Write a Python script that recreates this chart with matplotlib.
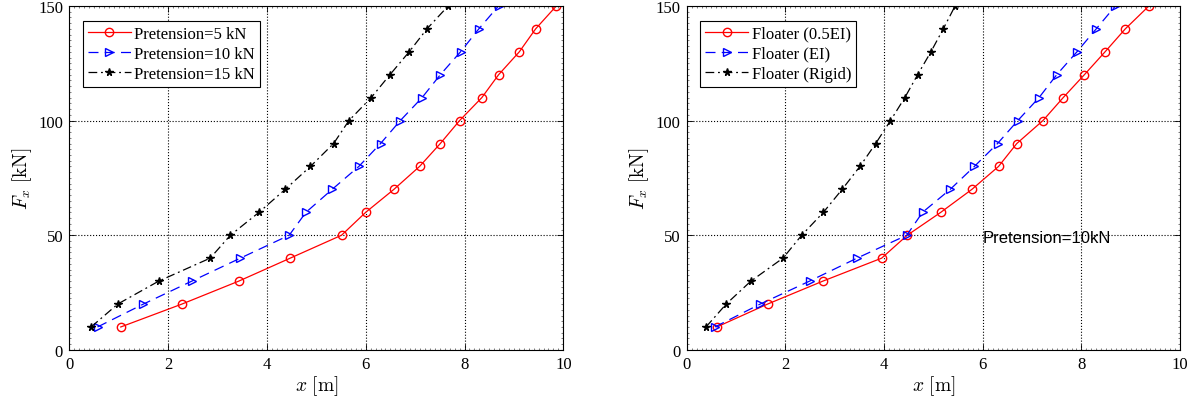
import matplotlib
matplotlib.use('Agg')
import matplotlib.pyplot as plt
from matplotlib.ticker import MultipleLocator

plt.rcParams['font.family'] = ['Liberation Serif', 'DejaVu Serif']
plt.rcParams['mathtext.fontset'] = 'cm'

force = [10, 20, 30, 40, 50, 60, 70, 80, 90, 100, 110, 120, 130, 140, 150]

# offset x [m] for different pretension levels
x_pre5 = [1.04, 2.28, 3.43, 4.47, 5.51, 6.00, 6.57, 7.09, 7.51, 7.90, 8.35, 8.69, 9.11, 9.44, 9.86]
x_pre10 = [0.57, 1.50, 2.48, 3.46, 4.45, 4.79, 5.32, 5.86, 6.30, 6.70, 7.14, 7.51, 7.92, 8.29, 8.69]
x_pre15 = [0.44, 0.98, 1.81, 2.85, 3.26, 3.84, 4.37, 4.88, 5.35, 5.66, 6.11, 6.49, 6.88, 7.24, 7.67]

# offset x [m] for different floater stiffness, pretension 10 kN
x_half_ei = [0.61, 1.64, 2.76, 3.95, 4.47, 5.15, 5.78, 6.32, 6.69, 7.22, 7.63, 8.06, 8.48, 8.89, 9.37]
x_ei = [0.57, 1.49, 2.49, 3.45, 4.46, 4.78, 5.34, 5.83, 6.30, 6.71, 7.14, 7.50, 7.91, 8.30, 8.69]
x_rigid = [0.39, 0.80, 1.30, 1.95, 2.33, 2.77, 3.15, 3.51, 3.83, 4.13, 4.42, 4.68, 4.95, 5.20, 5.44]

labels_left = ['Pretension=5 kN', 'Pretension=10 kN', 'Pretension=15 kN']
labels_right = ['Floater (0.5EI)', 'Floater (EI)', 'Floater (Rigid)']

styles = [
    dict(color='r', linestyle='-', marker='o', mfc='none', ms=6),
    dict(color='b', linestyle=(0, (8, 5)), marker='>', mfc='none', ms=6),
    dict(color='k', linestyle=(0, (7, 3, 1.5, 3)), marker='*', ms=5.5),
]


def setup_axes(ax):
    ax.set_xlim(0, 10)
    ax.set_ylim(0, 150)
    ax.xaxis.set_major_locator(MultipleLocator(2))
    ax.yaxis.set_major_locator(MultipleLocator(50))
    ax.xaxis.set_minor_locator(MultipleLocator(0.1))
    ax.yaxis.set_minor_locator(MultipleLocator(2.5))
    ax.tick_params(which='both', direction='in', top=True, right=True, labelsize=12)
    ax.tick_params(which='major', length=4, width=0.6, pad=4.5)
    ax.tick_params(which='minor', length=1.5, width=0.5, color='0.3')
    ax.grid(True, which='major', linestyle=':', color='k', linewidth=0.8)
    for sp in ax.spines.values():
        sp.set_linewidth(0.8)
    ax.set_xlabel(r'$x\ [\mathrm{m}]$', fontsize=14, labelpad=1)
    ax.set_ylabel(r'$F_x\ [\mathrm{kN}]$', fontsize=14, labelpad=3)


fig = plt.figure(figsize=(11.96, 4.06), dpi=100)
ax1 = fig.add_axes([0.0580, 0.1357, 0.4130, 0.8473])
ax2 = fig.add_axes([0.5742, 0.1357, 0.4125, 0.8473])

for ax, series, labels in [(ax1, [x_pre5, x_pre10, x_pre15], labels_left),
                           (ax2, [x_half_ei, x_ei, x_rigid], labels_right)]:
    for xs, lab, st in zip(series, labels, styles):
        ax.plot(xs, force, linewidth=0.9, label=lab, **st)
    setup_axes(ax)
    leg = ax.legend(loc='upper left', bbox_to_anchor=(0.027, 0.957), borderaxespad=0,
                    fancybox=False, edgecolor='k', framealpha=1, fontsize=12,
                    handlelength=2.6, labelspacing=0.25, borderpad=0.3, handletextpad=0.2)
    leg.get_frame().set_linewidth(0.8)

ax2.text(6.0, 49, 'Pretension=10kN', family=['Liberation Sans', 'DejaVu Sans'],
         fontsize=12, ha='left', va='center')

fig.savefig('out.png', dpi=100)
